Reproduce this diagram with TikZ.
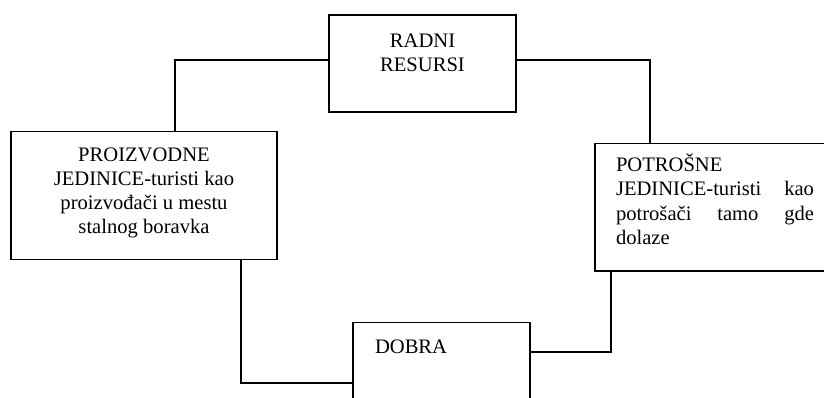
\documentclass[tikz,border=0pt]{standalone}
\usepackage{fontspec}
\setmainfont{Liberation Serif}
\begin{document}
\begin{tikzpicture}[x=1pt,y=-1pt,
  box/.style={draw,line width=1.3pt,inner sep=0pt,outer sep=0pt,rectangle},
  wire/.style={line width=1.3pt},
  txt/.style={inner sep=0pt,outer sep=0pt,font=\fontsize{20.6}{24}\selectfont},
  ctxt/.style={txt,anchor=base},
  ltxt/.style={txt,anchor=base west}]
\clip (0,0) rectangle (824,398);
% boxes
\node[box,minimum width=187pt,minimum height=97pt] (radni) at (422.5,63.5) {};
\node[box,minimum width=266pt,minimum height=128pt] (proiz) at (144,195.5) {};
\node[box,minimum width=241pt,minimum height=127.5pt] (potr) at (715.5,207.25) {};
\node[box,minimum width=177pt,minimum height=97.5pt] (dobra) at (441.5,371.25) {};
% texts
\node[ctxt] (r1) at (422.5,47.2) {RADNI};
\node[ctxt] (r2) at (422.5,71.5) {RESURSI};
\node[ctxt] (p1) at (144,161.5) {PROIZVODNE};
\node[ctxt] (p2) at (144,185.5) {JEDINICE-turisti kao};
\node[ctxt] (p3) at (144,209.5) {proizvođači u mestu};
\node[ctxt] (p4) at (144,233.5) {stalnog boravka};
\node[ltxt] (t1) at (616,172) {POTROŠNE};
\node[ltxt] (t2) at (616,196) {\makebox[198pt][s]{JEDINICE-turisti kao}};
\node[ltxt] (t3) at (616,220) {\makebox[198pt][s]{potrošači tamo gde}};
\node[ltxt] (t4) at (616,244) {dolaze};
\node[ltxt] (d1) at (375,353.3) {DOBRA};
% connectors
\coordinate (k1) at (175,60);
\coordinate (k2) at (650,60);
\coordinate (k3) at (241,383);
\coordinate (k4) at (611,352);
\draw[wire] (k1 -| radni.west) -| (k1 |- proiz.north);
\draw[wire] (k2 -| radni.east) -| (k2 |- potr.north);
\draw[wire] (k3 |- proiz.south) |- (k3 -| dobra.west);
\draw[wire] (k4 -| dobra.east) -| (k4 |- potr.south);
\end{tikzpicture}
\end{document}
